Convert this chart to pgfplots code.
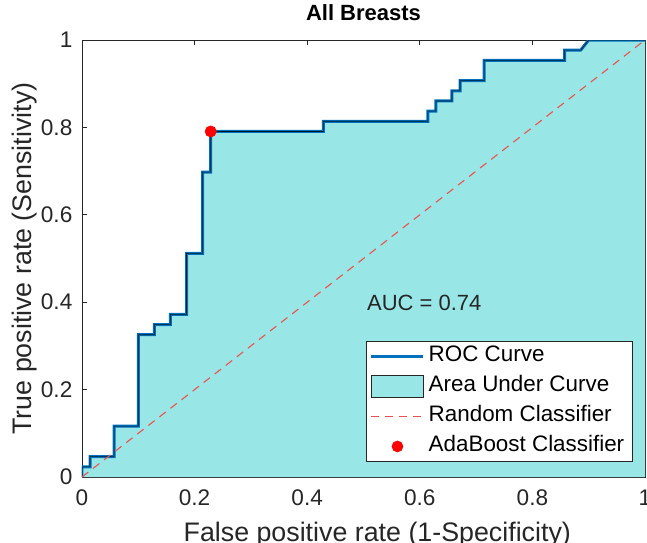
\documentclass[border=0pt]{standalone}
\usepackage{fontspec}
\setmainfont{Liberation Sans}
\usepackage{pgfplots}
\usepackage{pgfplotstable}
\pgfplotsset{compat=1.18}

\definecolor{rocblue}{RGB}{0,114,189}
\definecolor{auccyan}{RGB}{153,230,230}
\definecolor{randred}{RGB}{240,80,80}
\definecolor{axgray}{RGB}{38,38,38}

% ROC curve: false positive rate, true positive rate
\pgfplotstableread{
fpr     tpr
0       0
0       0.0233
0.0143  0.0233
0.0143  0.0465
0.0571  0.0465
0.0571  0.1163
0.1     0.1163
0.1     0.3256
0.1286  0.3256
0.1286  0.3488
0.1571  0.3488
0.1571  0.3721
0.1857  0.3721
0.1857  0.5116
0.2143  0.5116
0.2143  0.6977
0.2286  0.6977
0.2286  0.7907
0.4286  0.7907
0.4286  0.8140
0.6143  0.8140
0.6143  0.8372
0.6286  0.8372
0.6286  0.8605
0.6571  0.8605
0.6571  0.8837
0.6714  0.8837
0.6714  0.9070
0.7143  0.9070
0.7143  0.9535
0.8571  0.9535
0.8571  0.9767
0.8857  0.9767
0.9     1
1       1
}\roc

\begin{document}
\begin{tikzpicture}
\useasboundingbox (-41pt,-32.5pt) rectangle (282.5pt,238.5pt);
\clip (-41pt,-32.5pt) rectangle (282.5pt,238.5pt);
\begin{axis}[
    at={(0pt,0pt)}, anchor=south west,
    width=281.5pt, height=218.5pt, scale only axis,
    xmin=0, xmax=1, ymin=0, ymax=1,
    xtick={0,0.2,0.4,0.6,0.8,1},
    ytick={0,0.2,0.4,0.6,0.8,1},
    tick align=inside,
    major tick length=2.5pt,
    tick style={axgray, line width=0.4pt},
    axis line style={axgray, line width=0.4pt},
    /pgf/number format/assume math mode=true,
    ticklabel style={font=\fontsize{11.3}{13}\selectfont, text=axgray},
    xticklabel style={yshift=-3pt},
    yticklabel style={xshift=-1.3pt},
    title={All Breasts},
    title style={font=\bfseries\fontsize{11}{13}\selectfont,
        at={(axis description cs:0.5,1)}, anchor=base, yshift=4pt},
    xlabel={False positive rate (1-Specificity)},
    xlabel style={font=\fontsize{13.4}{16}\selectfont, text=axgray,
        at={(axis description cs:0.168,0)}, anchor=north west, yshift=-19pt},
    ylabel={True positive rate (Sensitivity)},
    ylabel style={font=\fontsize{13.4}{16}\selectfont, text=axgray,
        at={(axis description cs:-0.1012,0.5)}, anchor=center},
    legend cell align=left,
    legend style={at={(axis description cs:0.978,0.034)}, anchor=south east,
        font=\fontsize{11.2}{13}\selectfont, text=black,
        draw=axgray, fill=white, inner xsep=2pt, inner ysep=0.4pt,
        row sep=0.5pt,
        nodes={inner sep=2pt, text height=8pt, text depth=2.5pt}},
]
\addplot[fill=auccyan, draw=none, forget plot] table {\roc} \closedcycle;
\addplot[rocblue, line width=1.5pt, forget plot] table {\roc};
\addplot[black!80!rocblue, line width=0.3pt, forget plot] table {\roc};
\addplot[randred, line width=0.55pt, dash pattern=on 4pt off 3pt, forget plot]
    coordinates {(0,0) (1,1)};
\addplot[only marks, mark=*, mark size=2.75pt, red, forget plot]
    coordinates {(0.2286,0.7907)};

\addlegendimage{legend image code/.code={
    \draw[rocblue, line width=1.3pt] (0pt,0pt) -- (26pt,0pt);}}
\addlegendentry{ROC Curve}
\addlegendimage{legend image code/.code={
    \draw[fill=auccyan, draw=axgray, line width=0.4pt] (0pt,-5.4pt) rectangle (26pt,5.4pt);}}
\addlegendentry{Area Under Curve}
\addlegendimage{legend image code/.code={
    \draw[randred, line width=0.5pt, dash pattern=on 4pt off 3pt] (0pt,0pt) -- (26pt,0pt);}}
\addlegendentry{Random Classifier}
\addlegendimage{legend image code/.code={
    \fill[red] (13pt,0pt) circle (2.7pt);}}
\addlegendentry{AdaBoost Classifier}

\node[anchor=west, inner sep=0pt, font=\fontsize{11}{13}\selectfont, text=axgray]
    at (axis cs:0.5057,0.398) {AUC = 0.74};
\end{axis}
\end{tikzpicture}
\end{document}
